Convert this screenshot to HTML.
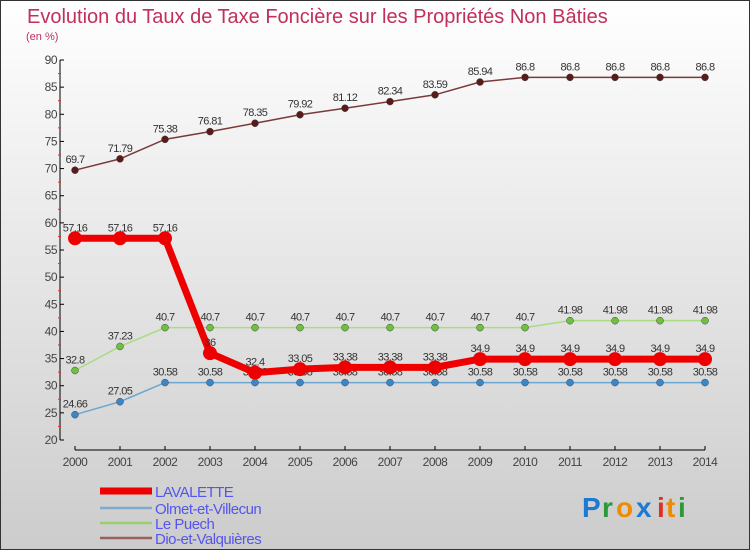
<!DOCTYPE html>
<html><head><meta charset="utf-8"><style>
body{margin:0;width:750px;height:550px;overflow:hidden;font-family:"Liberation Sans",sans-serif}
</style></head><body>
<svg width="750" height="550" xmlns="http://www.w3.org/2000/svg">
<defs><linearGradient id="bg" x1="0" y1="0" x2="0" y2="1"><stop offset="0" stop-color="#ffffff"/><stop offset="1" stop-color="#cccccc"/></linearGradient></defs>
<rect x="0.5" y="0.5" width="749" height="549" fill="url(#bg)" stroke="#333"/>
<text x="27" y="23" font-size="20" fill="#c0305a">Evolution du Taux de Taxe Foncière sur les Propriétés Non Bâties</text>
<text x="26" y="40" font-size="11" fill="#c0305a">(en %)</text>
<g id="axes"></g><g id="series"></g><g id="legend"></g>
<g font-size="28" font-weight="bold">
<text x="582" y="517" fill="#1a7ad4">P</text><text x="602" y="517" fill="#2a9a3a">r</text><text x="616" y="517" fill="#f08a00">o</text><text x="636" y="517" fill="#1a7ad4">x</text><text x="657" y="517" fill="#e03020">i</text><text x="666" y="517" fill="#f08a00">t</text><text x="678" y="517" fill="#2a9a3a">i</text>
</g>
</svg>
<script>
const years=[2000,2001,2002,2003,2004,2005,2006,2007,2008,2009,2010,2011,2012,2013,2014];
const lavalette=[57.16,57.16,57.16,36,32.4,33.05,33.38,33.38,33.38,34.9,34.9,34.9,34.9,34.9,34.9];
const olmet=[24.66,27.05,30.58,30.58,30.58,30.58,30.58,30.58,30.58,30.58,30.58,30.58,30.58,30.58,30.58];
const puech=[32.8,37.23,40.7,40.7,40.7,40.7,40.7,40.7,40.7,40.7,40.7,41.98,41.98,41.98,41.98];
const dio=[69.7,71.79,75.38,76.81,78.35,79.92,81.12,82.34,83.59,85.94,86.8,86.8,86.8,86.8,86.8];
const yTicks=[20,25,30,35,40,45,50,55,60,65,70,75,80,85,90];
const names=["LAVALETTE","Olmet-et-Villecun","Le Puech","Dio-et-Valquières"];
const NS="http://www.w3.org/2000/svg";
const X=i=>75+i*45, Y=v=>60+(90-v)*380/70;
function mk(p,t,a){const e=document.createElementNS(NS,t);for(const k in a)e.setAttribute(k,a[k]);p.appendChild(e);return e;}
const ax=document.getElementById('axes');
let l=mk(ax,'line',{x1:60,y1:Y(90),x2:60,y2:Y(20),stroke:'#000'});


l=mk(ax,'line',{x1:X(0),y1:450,x2:X(14),y2:450,stroke:'#000'});


yTicks.forEach(v=>{mk(ax,'line',{x1:60,y1:Y(v),x2:64,y2:Y(v),stroke:'#000'});
 if(v<90)mk(ax,'line',{x1:58,y1:Y(v+2.5),x2:61,y2:Y(v+2.5),stroke:'#e03030'});
 const t=mk(ax,'text',{x:57,y:Y(v)+4,'font-size':12,fill:'#444','text-anchor':'end','letter-spacing':'-0.5'});t.textContent=v;
 
 });
years.forEach((y,i)=>{mk(ax,'line',{x1:X(i),y1:446,x2:X(i),y2:450,stroke:'#000'});
 const t=mk(ax,'text',{x:X(i),y:466,'font-size':12,fill:'#444','text-anchor':'middle','letter-spacing':'-0.5'});t.textContent=y;
 
 });
const sg=document.getElementById('series');
const defs=[[dio,'#7a3a3a','#5a1a1a',1.5,3.5,'dio'],[olmet,'#6aa6d0','#3a86c8',1.5,3.5,'olmet'],[puech,'#a8dc80','#70c040',1.5,3.5,'puech'],[lavalette,'#ee0000','#ee0000',7,7,'lavalette']];
defs.forEach(([d,c,mc,w,r,n])=>{
 const p=mk(sg,'polyline',{points:d.map((v,i)=>X(i)+','+Y(v)).join(' '),fill:'none',stroke:c,'stroke-width':w});
 
 
 d.forEach((v,i)=>{const m=mk(sg,'circle',{cx:X(i),cy:Y(v),r:r,fill:mc,stroke:r<5?'#444':'none','stroke-width':0.5});
  
  
  const t=mk(sg,'text',{x:X(i),y:Y(v)-7,'font-size':11,fill:'#333','text-anchor':'middle','letter-spacing':'-0.6'});t.textContent=v;
  
  });
});
const lg=document.getElementById('legend');
const lc=['#ee0000','#80aacc','#98d070','#9a6060'],lw=[7,2.5,2.5,2.5],ly=[491,508,523,538];
names.forEach((n,i)=>{const a=mk(lg,'line',{x1:100,y1:ly[i],x2:152,y2:ly[i],stroke:lc[i],'stroke-width':lw[i]});
 
 
 const t=mk(lg,'text',{x:155,y:ly[i]+6,'font-size':15,fill:'#5555ee','letter-spacing':'-0.5'});t.textContent=n;
 
 });
</script>
</body></html>
